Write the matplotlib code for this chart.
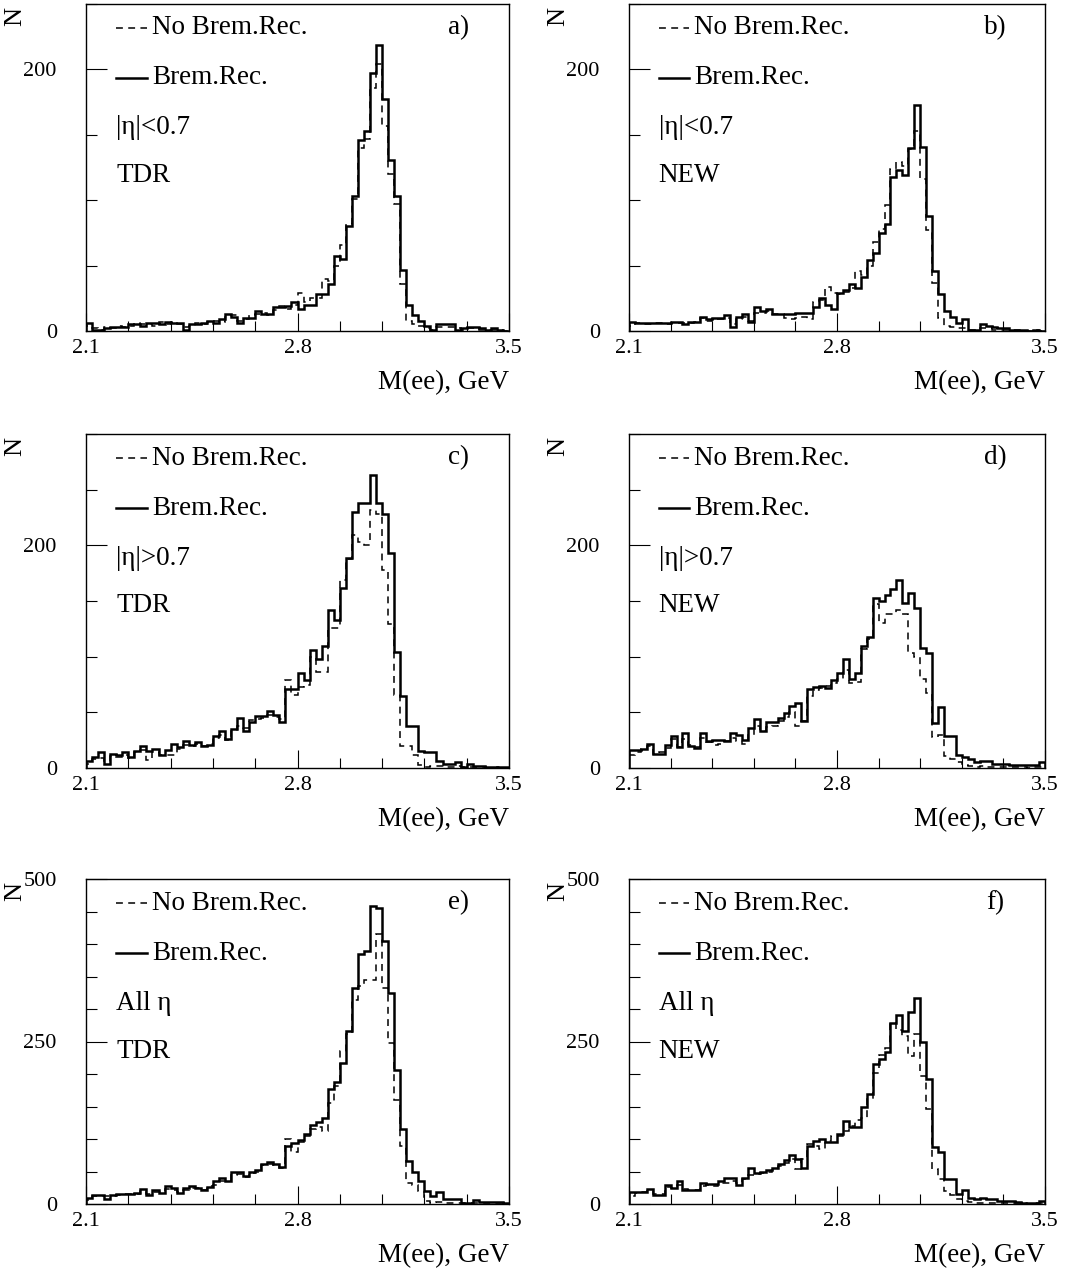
import matplotlib.pyplot as plt
import numpy as np
from matplotlib.ticker import MultipleLocator

plt.rcParams['font.family'] = ['Liberation Serif', 'DejaVu Serif']

W, H = 1088, 1277

# bin edges of M(ee), GeV (70 bins of 0.02)
edges = np.round(np.linspace(2.1, 3.5, 71), 2)

# a) |eta|<0.7, TDR
a_nobrem = [4, 2, 1, 3, 2, 4, 3, 4, 6, 5, 5, 4, 7, 5, 7, 5, 3, 4, 6, 5,
            7, 8, 7, 11, 12, 8, 9, 12, 13, 14, 12, 16, 19, 17, 20, 29, 22, 25, 25, 40,
            38, 50, 66, 82, 101, 140, 147, 186, 204, 157, 120, 97, 36, 8, 5, 4, 2, 1, 3, 3,
            3, 2, 1, 2, 2, 1, 1, 1, 1, 0]
a_brem = [6, 1, 1, 2, 3, 3, 3, 5, 5, 4, 6, 6, 5, 7, 6, 6, 1, 5, 5, 6,
          8, 6, 9, 13, 11, 6, 10, 10, 15, 13, 13, 18, 18, 19, 22, 17, 20, 20, 28, 28,
          36, 57, 55, 80, 103, 146, 153, 197, 219, 177, 131, 103, 47, 20, 12, 8, 4, 1, 5, 5,
          5, 1, 2, 3, 3, 2, 1, 2, 1, 0]

# b) |eta|<0.7, NEW
b_nobrem = [4, 6, 5, 5, 6, 6, 5, 6, 6, 6, 6, 7, 10, 8, 9, 9, 10, 5, 9, 11,
            8, 14, 14, 15, 13, 13, 10, 9, 10, 11, 9, 22, 24, 34, 29, 28, 30, 33, 46, 43,
            50, 68, 78, 96, 124, 129, 126, 139, 153, 116, 77, 37, 10, 4, 3, 2, 2, 1, 1, 2,
            2, 1, 1, 1, 1, 1, 0, 0, 1, 0]
b_brem = [7, 6, 6, 6, 6, 6, 6, 7, 7, 5, 7, 7, 11, 9, 10, 10, 12, 3, 11, 13,
          7, 18, 15, 17, 13, 13, 13, 13, 14, 14, 14, 18, 25, 20, 17, 29, 31, 36, 33, 41,
          54, 60, 75, 82, 118, 123, 119, 140, 173, 141, 88, 46, 28, 15, 11, 6, 9, 1, 1, 5,
          4, 3, 2, 2, 1, 1, 1, 0, 1, 0]

# c) |eta|>0.7, TDR
c_nobrem = [4, 8, 9, 6, 11, 10, 12, 9, 14, 16, 7, 14, 12, 12, 12, 17, 21, 20, 22, 20,
            22, 27, 30, 25, 33, 38, 36, 43, 44, 45, 48, 46, 44, 79, 66, 73, 75, 100, 86, 86,
            126, 126, 169, 188, 209, 203, 200, 232, 228, 178, 129, 66, 20, 20, 12, 3, 1, 2, 2, 1,
            1, 2, 1, 1, 1, 1, 0, 0, 1, 0]
c_brem = [6, 10, 14, 4, 13, 12, 14, 10, 15, 20, 15, 17, 12, 16, 22, 19, 24, 21, 23, 20,
          21, 29, 33, 26, 35, 45, 33, 41, 47, 47, 51, 48, 41, 71, 71, 85, 79, 106, 98, 110,
          142, 133, 162, 189, 230, 238, 238, 263, 238, 228, 193, 104, 65, 38, 38, 15, 14, 14, 6, 4,
          4, 5, 1, 4, 2, 2, 1, 1, 1, 1]

# d) |eta|>0.7, NEW
d_nobrem = [12, 14, 17, 20, 13, 14, 18, 26, 19, 26, 21, 19, 27, 23, 21, 22, 24, 27, 24, 22,
            30, 38, 33, 37, 38, 42, 46, 50, 38, 42, 65, 70, 72, 74, 76, 80, 88, 76, 77, 107,
            116, 147, 130, 138, 138, 142, 138, 103, 100, 80, 67, 28, 30, 11, 8, 5, 3, 2, 1, 2,
            1, 1, 1, 1, 1, 1, 1, 0, 1, 1]
d_brem = [16, 16, 17, 22, 13, 13, 21, 29, 19, 31, 20, 18, 31, 24, 25, 25, 24, 31, 30, 25,
          36, 44, 33, 41, 41, 45, 49, 56, 58, 42, 71, 73, 74, 72, 79, 85, 98, 80, 85, 110,
          118, 153, 150, 155, 161, 169, 148, 157, 144, 108, 103, 40, 55, 29, 29, 12, 10, 8, 5, 6,
          6, 4, 4, 4, 3, 3, 3, 3, 3, 5]

# e) all eta, TDR
e_nobrem = [6, 12, 13, 12, 12, 14, 15, 15, 16, 20, 15, 18, 19, 23, 22, 19, 22, 25, 24, 22,
            28, 30, 36, 36, 45, 46, 42, 47, 50, 60, 62, 60, 55, 100, 80, 95, 105, 115, 118, 113,
            155, 182, 235, 262, 314, 335, 345, 345, 415, 333, 248, 160, 90, 32, 30, 20, 4, 2, 3, 2,
            2, 2, 1, 1, 2, 1, 1, 1, 1, 0]
e_brem = [9, 14, 14, 7, 14, 16, 16, 16, 17, 23, 14, 21, 17, 27, 25, 17, 25, 28, 25, 22,
          26, 35, 40, 35, 49, 50, 43, 50, 52, 62, 65, 62, 57, 90, 94, 98, 108, 122, 126, 133,
          177, 187, 217, 266, 332, 385, 389, 459, 456, 404, 324, 206, 115, 66, 49, 36, 20, 12, 18, 7,
          7, 7, 2, 2, 6, 3, 3, 3, 3, 1]

# f) all eta, NEW
f_nobrem = [12, 17, 18, 20, 16, 16, 26, 24, 30, 23, 22, 22, 28, 30, 28, 32, 33, 35, 33, 38,
            44, 46, 48, 50, 53, 58, 63, 70, 54, 70, 92, 90, 84, 97, 105, 104, 112, 120, 130, 133,
            162, 202, 230, 240, 279, 268, 258, 228, 261, 197, 146, 54, 38, 20, 14, 8, 5, 3, 2, 2,
            2, 1, 1, 1, 1, 1, 1, 0, 1, 1]
f_brem = [18, 19, 19, 23, 14, 14, 30, 25, 35, 22, 21, 21, 33, 31, 31, 36, 40, 40, 30, 40,
          55, 48, 49, 52, 55, 62, 68, 76, 69, 56, 89, 97, 100, 95, 96, 107, 128, 118, 118, 150,
          170, 215, 223, 234, 279, 291, 266, 295, 317, 249, 192, 88, 80, 39, 39, 15, 22, 10, 8, 10,
          7, 7, 5, 5, 4, 3, 2, 2, 2, 5]

# tag, region, version, dashed, solid, ymax, labelled y ticks, box in pixels (l, t, r, b)
panels = [
    ("a)", "|η|<0.7", "TDR", a_nobrem, a_brem, 250, [0, 200], (86, 4, 509, 331)),
    ("b)", "|η|<0.7", "NEW", b_nobrem, b_brem, 250, [0, 200], (629, 4, 1045, 331)),
    ("c)", "|η|>0.7", "TDR", c_nobrem, c_brem, 300, [0, 200], (86, 434, 509, 768)),
    ("d)", "|η|>0.7", "NEW", d_nobrem, d_brem, 300, [0, 200], (629, 434, 1045, 768)),
    ("e)", "All η", "TDR", e_nobrem, e_brem, 500, [0, 250, 500], (86, 879, 509, 1204)),
    ("f)", "All η", "NEW", f_nobrem, f_brem, 500, [0, 250, 500], (629, 879, 1045, 1204)),
]

dash = (0, (4.5, 3.5))

fig = plt.figure(figsize=(W / 100, H / 100), dpi=100)

for tag, region, version, nobrem, brem, ymax, yt, (l, t, r, b) in panels:
    ax = fig.add_axes([l / W, 1 - b / H, (r - l) / W, (b - t) / H])
    ah = b - t

    ax.stairs(nobrem, edges, color='black', lw=1.1, ls=dash)
    ax.stairs(brem, edges, color='black', lw=1.8)

    ax.set_xlim(2.1, 3.5)
    ax.set_ylim(0, ymax)
    ax.set_xticks([2.1, 2.8, 3.5])
    ax.set_xticklabels(["2.1", "2.8", "3.5"])
    ax.xaxis.set_minor_locator(MultipleLocator(0.14))
    ax.set_yticks(yt)
    ax.yaxis.set_minor_locator(MultipleLocator(50))
    ax.tick_params(which='both', direction='in', top=False, right=False, width=0.8)
    ax.tick_params(axis='x', which='major', length=13, pad=6, labelsize=16)
    ax.tick_params(axis='x', which='minor', length=7)
    ax.tick_params(axis='y', which='major', length=15, pad=21, labelsize=16)
    ax.tick_params(axis='y', which='minor', length=8)
    for s in ax.spines.values():
        s.set_linewidth(1.0)

    # legend-like labels inside the frame
    y1 = 1 - 24 / ah
    y2 = 1 - 74 / ah
    ax.plot([0.071, 0.144], [y1, y1], transform=ax.transAxes, color='black',
            lw=1.1, ls=dash)
    ax.plot([0.071, 0.144], [y2, y2], transform=ax.transAxes, color='black', lw=1.8)
    ax.text(0.156, y1, "No Brem.Rec.", transform=ax.transAxes, fontsize=19.5,
            va='center', ha='left')
    ax.text(0.156, y2, "Brem.Rec.", transform=ax.transAxes, fontsize=19.5,
            va='center', ha='left')
    ax.text(0.071, 1 - 124 / ah, region, transform=ax.transAxes, fontsize=19.5,
            va='center', ha='left')
    ax.text(0.071, 1 - 172 / ah, version, transform=ax.transAxes, fontsize=19.5,
            va='center', ha='left')
    ax.text(0.88, y1, tag, transform=ax.transAxes, fontsize=19.5, va='center', ha='center')

    ax.text(1.0, -52 / ah, "M(ee), GeV", transform=ax.transAxes, fontsize=19.5,
            va='center', ha='right')
    ax.text(-71 / (r - l), 1 - 12 / ah, "N", transform=ax.transAxes, fontsize=19,
            rotation=90, va='center', ha='center')

fig.savefig("out.png", dpi=100)
